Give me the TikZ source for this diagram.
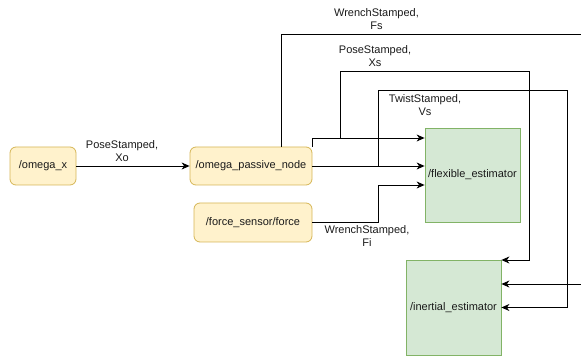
\documentclass[tikz,border=0pt]{standalone}
\usepackage{fontspec}
\setmainfont{Liberation Sans}
\usetikzlibrary{arrows.meta}
\definecolor{yfill}{HTML}{FFF2CC}
\definecolor{ydraw}{HTML}{D6B656}
\definecolor{gfill}{HTML}{D5E8D4}
\definecolor{gdraw}{HTML}{82B366}
\definecolor{txt}{HTML}{1A1A1A}
\begin{document}
\begin{tikzpicture}[x=1pt,y=-1pt,
  every node/.style={font=\fontsize{11}{13}\selectfont, text=txt, inner sep=0pt},
  topic/.style={draw=ydraw, fill=yfill, rounded corners=6pt, line width=0.8pt, minimum height=38pt},
  est/.style={draw=gdraw, fill=gfill, line width=0.8pt, minimum width=95pt, minimum height=95pt},
  arr/.style={draw=black, line width=0.9pt, -{Stealth[length=8pt,width=7pt,inset=2.5pt]}},
  lbl/.style={align=center}]
\useasboundingbox (0,0) rectangle (581,358);
% nodes
\node[topic, minimum width=66pt] (ox) at (43,166) {/omega\_x};
\node[topic, minimum width=122pt] (op) at (251,166) {/omega\_passive\_node};
\node[topic, minimum width=118pt, minimum height=39pt] (fs) at (253,222.5) {/force\_sensor/force};
\node[est, minimum height=94pt] (fe) at (472.5,175) {/flexible\_estimator};
\node[est] (ie) at (453.5,307.5) {/inertial\_estimator};
% branch coordinates
\coordinate (bx) at (340,138);
\coordinate (bv) at (378,166);
% edges
\draw[arr] (ox) -- (op);
\draw[arr] (op.east) -- (fe.west |- op.east);
\draw[arr] ([yshift=19pt]op.east) |- (fe.west |- 0,138);
\draw[arr] (bx) |- (529,71) |- (ie.east |- 0,260);
\draw[arr] (bv) |- (567,90) |- (ie.east);
\draw[arr] ([xshift=30pt]op.north) |- (595,34) |- (ie.east |- 0,284);
\draw[arr] (fs.east) -- (378,222.5) |- (fe.west |- 0,185);
% labels
\node[lbl] at (122,151) {PoseStamped,\\Xo};
\node[lbl] at (376.5,19.5) {WrenchStamped,\\Fs};
\node[lbl] at (375,56.5) {PoseStamped,\\Xs};
\node[lbl] at (425,105.5) {TwistStamped,\\Vs};
\node[lbl] at (367,236.5) {WrenchStamped,\\Fi};
\end{tikzpicture}
\end{document}
